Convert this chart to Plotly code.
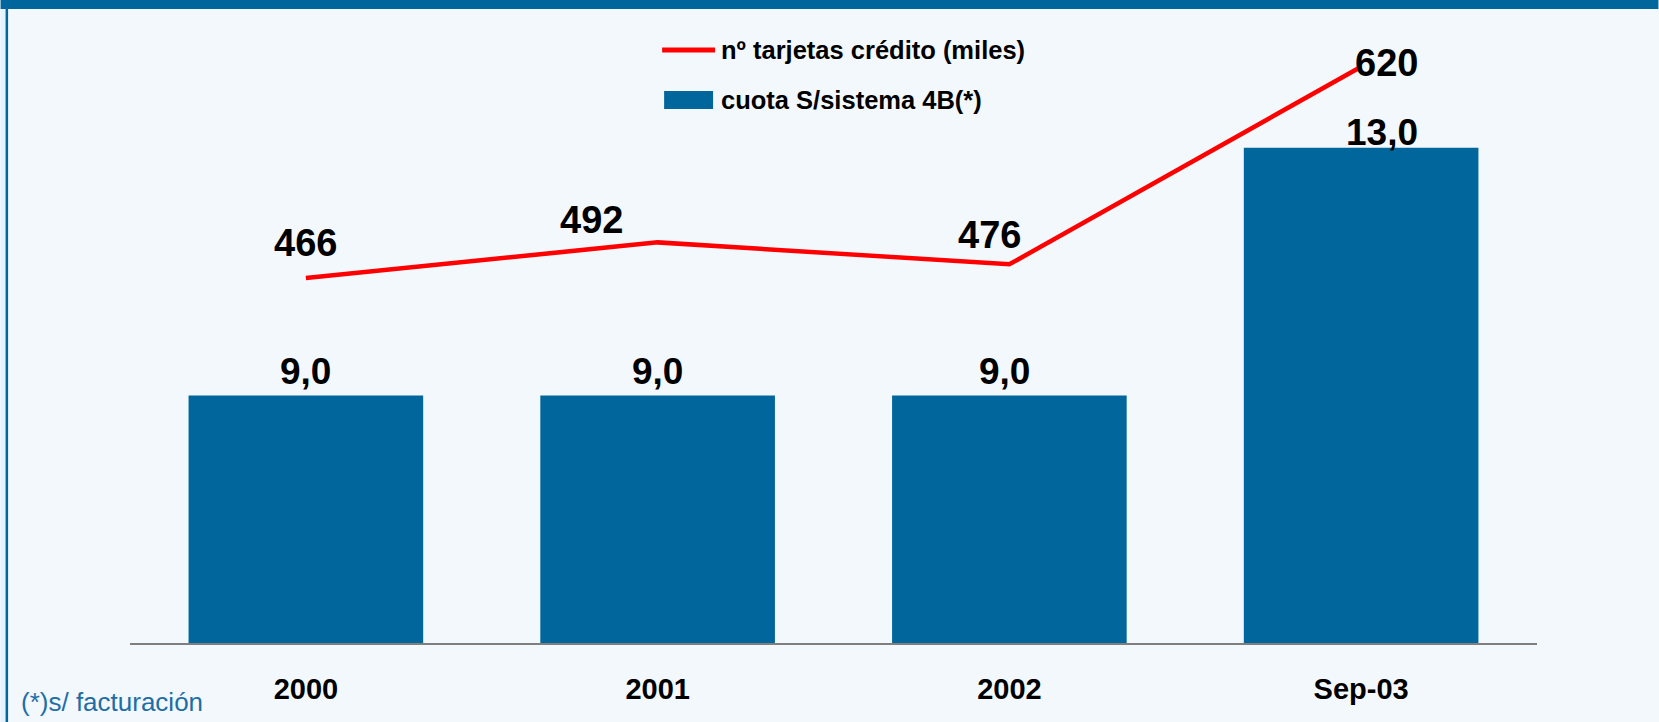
import plotly.graph_objects as go

# ---- data ----
categories = ["2000", "2001", "2002", "Sep-03"]
cuota = [9.0, 9.0, 9.0, 13.0]            # cuota S/sistema 4B(*)
tarjetas = [466, 492, 476, 620]          # nº tarjetas crédito (miles)
axis_floor = 5                           # value at the category axis (bar scale)

# ---- label offsets (px) as placed in the original slide ----
line_label_shift = [(0, 35), (-66, 22), (-20, 29), (25, 4)]
bar_label_shift = [(0, 24), (0, 24), (-5, 24), (21, 15)]

BLUE = "#00669b"
RED = "#ff0000"
BG = "#f3f8fd"
FONT = "Liberation Sans"

W, H = 1659, 722
L, R, T, B = 129.5, 1537.5, 20, 643


def px_x(p):
    return (p - L) / (R - L)


def px_y(p):
    return (B - p) / (B - T)


fig = go.Figure()
fig.add_trace(go.Bar(
    x=categories, y=[v - axis_floor for v in cuota], base=axis_floor,
    marker=dict(color=BLUE, line=dict(width=0)),
    name="cuota S/sistema 4B(*)", showlegend=False,
))
fig.add_trace(go.Scatter(
    x=categories, y=tarjetas, yaxis="y2", mode="lines",
    line=dict(color=RED, width=4.5), name="nº tarjetas crédito (miles)",
    showlegend=False,
))

annotations = []
for i, (v, (dx, dy)) in enumerate(zip(tarjetas, line_label_shift)):
    annotations.append(dict(
        x=i, y=v, xref="x", yref="y2", text=str(v), showarrow=False,
        xshift=dx, yshift=dy, font=dict(family=FONT, size=38, color="black", weight="bold"),
    ))
for i, (v, (dx, dy)) in enumerate(zip(cuota, bar_label_shift)):
    annotations.append(dict(
        x=i, y=v, xref="x", yref="y", text=f"{v:.1f}".replace(".", ","), showarrow=False,
        xshift=dx, yshift=dy, font=dict(family=FONT, size=37, color="black", weight="bold"),
    ))

# custom legend
legend_items = [("nº tarjetas crédito (miles)", 50), ("cuota S/sistema 4B(*)", 100)]
for text, yc in legend_items:
    annotations.append(dict(
        x=px_x(719), y=px_y(yc), xref="paper", yref="paper", text=text,
        showarrow=False, xanchor="left", yanchor="middle",
        font=dict(family=FONT, size=25.5, color="black", weight="bold"),
    ))

# footnote
annotations.append(dict(
    x=px_x(18), y=px_y(702), xref="paper", yref="paper", text="(*)s/ facturación",
    showarrow=False, xanchor="left", yanchor="middle",
    font=dict(family=FONT, size=26, color="#1d6ea6"),
))

shapes = [
    dict(type="rect", xref="paper", yref="paper", x0=px_x(0), x1=px_x(5), y0=px_y(H), y1=px_y(0),
         fillcolor="#e6f2fd", line=dict(width=0), layer="below"),
    dict(type="rect", xref="paper", yref="paper", x0=px_x(5), x1=px_x(7.5), y0=px_y(H), y1=px_y(0),
         fillcolor=BLUE, line=dict(width=0), layer="below"),
    dict(type="rect", xref="paper", yref="paper", x0=px_x(0), x1=px_x(W), y0=px_y(9), y1=px_y(0),
         fillcolor=BLUE, line=dict(width=0), layer="above"),
    dict(type="line", xref="paper", yref="paper", x0=px_x(662), x1=px_x(715), y0=px_y(50), y1=px_y(50),
         line=dict(color=RED, width=5)),
    dict(type="rect", xref="paper", yref="paper", x0=px_x(664), x1=px_x(713), y0=px_y(109), y1=px_y(91),
         fillcolor=BLUE, line=dict(width=0)),
]

fig.update_layout(
    width=W, height=H,
    margin=dict(l=L, r=W - R, t=T, b=H - B, autoexpand=False),
    paper_bgcolor=BG, plot_bgcolor="rgba(0,0,0,0)",
    bargap=0.333,
    showlegend=False,
    font=dict(family=FONT),
    xaxis=dict(
        type="category", range=[-0.5, len(categories) - 0.5], autorange=False,
        showline=True, linecolor="#7f7f7f", linewidth=1.5,
        showgrid=False, zeroline=False, ticks="", layer="below traces",
        tickfont=dict(family=FONT, size=29, color="black", weight="bold"),
        ticklabelstandoff=19,
    ),
    yaxis=dict(range=[axis_floor, axis_floor + (B - T) / 61.9], visible=False,
               showgrid=False, zeroline=False),
    yaxis2=dict(range=[200, 200 + (B - T) / 1.372], overlaying="y", visible=False,
                showgrid=False, zeroline=False),
    annotations=annotations,
    shapes=shapes,
)

fig.write_html(
    "out.html",
    config={"displayModeBar": False},
    post_script="document.body.style.margin='0';document.body.style.overflow='hidden';"
                "document.body.style.background='" + BG + "';",
)
